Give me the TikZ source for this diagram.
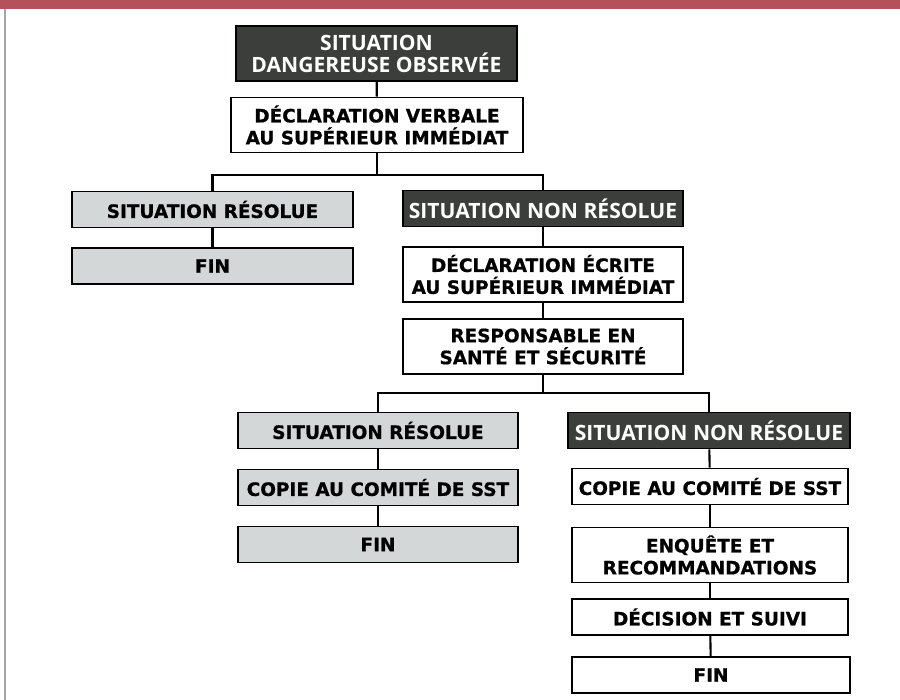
\documentclass[tikz,border=0pt]{standalone}
\usepackage{fontspec}
\setmainfont{DejaVu Sans}
\newfontfamily\heavyfont[FakeBold=0.8]{DejaVu Sans Bold}
\newfontfamily\lightfont{Open Sans}
\definecolor{bandred}{HTML}{B4525C}
\definecolor{boxdark}{HTML}{3B3E3B}
\definecolor{boxgrey}{HTML}{D4D7D7}

\begin{document}
\begin{tikzpicture}[x=0.02cm, y=-0.02cm,
    box/.style = {draw=black, line width=1.1pt, inner sep=0pt, align=center,
                  minimum height=0.72cm, font=\heavyfont\fontsize{10.5}{12.5}\selectfont},
    tall/.style = {minimum height=1.1cm},
    darkbox/.style = {box, fill=boxdark, text=white,
                      font=\lightfont\bfseries\fontsize{12}{12.5}\selectfont},
    greybox/.style = {box, fill=boxgrey},
    whitebox/.style = {box, fill=white},
    link/.style = {line width=1.2pt},]
	\useasboundingbox (0,0) rectangle (900,700);
	\fill[bandred] (0,0) rectangle (900,9);
	\draw[black!35, line width=1pt] (5,9) -- (5,700);

	\node[darkbox, tall, minimum width=5.62cm] (A) at (376.5,53.5) {SITUATION\\DANGEREUSE OBSERVÉE};
	\node[whitebox, tall, minimum width=5.84cm] (B) at (377,125) {DÉCLARATION VERBALE\\AU SUPÉRIEUR IMMÉDIAT};
	\node[greybox, minimum width=5.62cm] (C) at (212.5,209.5) {SITUATION RÉSOLUE};
	\node[greybox, minimum width=5.62cm] (D) at (212.5,266) {FIN};
	\node[darkbox, minimum width=5.6cm] (E) at (543,208.5) {SITUATION NON RÉSOLUE};
	\node[whitebox, tall, minimum width=5.6cm] (F) at (543,274.5) {DÉCLARATION ÉCRITE\\AU SUPÉRIEUR IMMÉDIAT};
	\node[whitebox, tall, minimum width=5.6cm] (G) at (543,346.5) {RESPONSABLE EN\\SANTÉ ET SÉCURITÉ};
	\node[greybox, minimum width=5.6cm] (H) at (378,430.5) {SITUATION RÉSOLUE};
	\node[greybox, minimum width=5.6cm] (J) at (378,487.5) {COPIE AU COMITÉ DE SST};
	\node[greybox, minimum width=5.6cm] (K) at (378,544.5) {FIN};
	\node[darkbox, minimum width=5.64cm] (I) at (709,430.5) {SITUATION NON RÉSOLUE};
	\node[whitebox, minimum width=5.52cm] (L) at (710,486.5) {COPIE AU COMITÉ DE SST};
	\node[whitebox, tall, minimum width=5.52cm] (M) at (710,555) {ENQUÊTE ET\\RECOMMANDATIONS};
	\node[whitebox, minimum width=5.52cm] (N) at (710,617) {DÉCISION ET SUIVI};
	\node[whitebox, minimum width=5.56cm] (O) at (711,675) {FIN};

	\coordinate (S1) at (377,175);
	\coordinate (S2) at (543,393);

	\draw[link] (A) -- (B);
	\draw[link] (B) -- (S1);
	\draw[link] (C) |- (S1) -| (E);
	\draw[link] (C) -- (D);
	\draw[link] (E) -- (F);
	\draw[link] (F) -- (G);
	\draw[link] (G) -- (S2);
	\draw[link] (H) |- (S2) -| (I);
	\draw[link] (H) -- (J);
	\draw[link] (J) -- (K);
	\draw[link] (I) -- (L);
	\draw[link] (L) -- (M);
	\draw[link] (M) -- (N);
	\draw[link] (N) -- (O);
\end{tikzpicture}
\end{document}
